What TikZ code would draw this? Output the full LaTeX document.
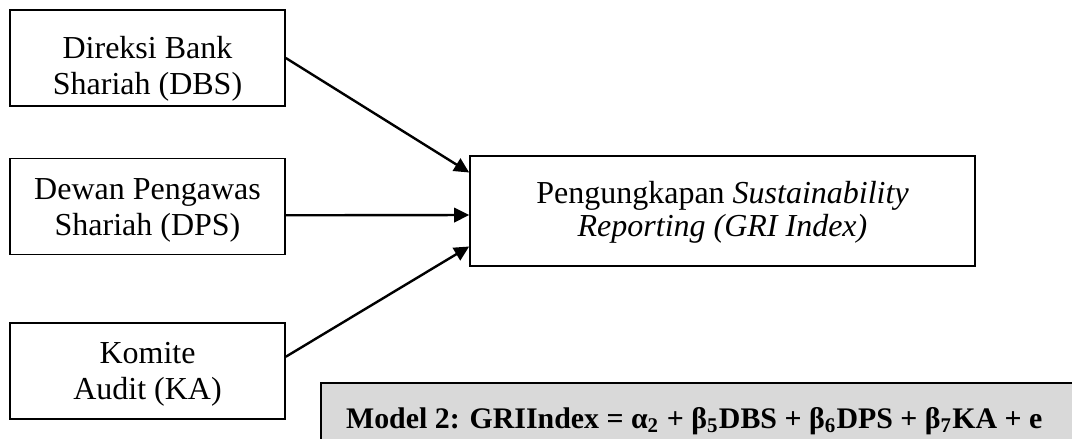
\documentclass[tikz,border=0pt]{standalone}
\usepackage{fontspec}
\setmainfont{Liberation Serif}
\usetikzlibrary{arrows.meta,calc}
\begin{document}
\begin{tikzpicture}[x=0.375pt,y=-0.375pt,
  varbox/.style={draw,line width=0.6pt,align=center,inner sep=0pt,
    minimum width=103.125pt,minimum height=36pt,
    font=\fontsize{12}{13.5}\selectfont},
  depbox/.style={draw,line width=0.6pt,align=center,inner sep=0pt,
    minimum width=189.4pt,minimum height=41.25pt,
    font=\fontsize{12}{12.4}\selectfont},
  modelbox/.style={draw,line width=0.6pt,fill=black!15,inner sep=0pt,anchor=north west,
    minimum width=300pt,minimum height=40pt},
  link/.style={line width=0.9pt,-{Triangle[length=5.6pt,width=5.4pt]}},
]
\useasboundingbox (0,0) rectangle (1072,439);

% independent variables
\node[varbox] (dbs) at (147.5,58)
  {\rule{0pt}{18.25pt}Direksi Bank\\Shariah (DBS)\rule[-4pt]{0pt}{4pt}};
\node[varbox] (dps) at (147.5,206.5)
  {\rule{0pt}{12.6pt}Dewan Pengawas\\Shariah (DPS)\rule[-4pt]{0pt}{4pt}};
\node[varbox] (ka) at (147.5,371)
  {\rule{0pt}{11.5pt}Komite\\Audit (KA)\rule[-4pt]{0pt}{4pt}};

% dependent variable
\node[depbox] (gri) at (722.5,211)
  {\rule{0pt}{9.9pt}Pengungkapan \textit{Sustainability}\\\textit{Reporting (GRI Index)}\rule[-3.5pt]{0pt}{3.5pt}};

% regression model
\node[modelbox] (model) at (320,382) {};
\node[anchor=base east,inner sep=0pt,font=\fontsize{11.2}{13}\selectfont\bfseries] (eq)
  at (1043,428)
  {Model 2: GRIIndex = α\textsubscript{2} + β\textsubscript{5}DBS + β\textsubscript{6}DPS + β\textsubscript{7}KA + e};

% effects
\draw[link] (dbs.east) -- ($(gri.north west)!0.155!(gri.south west)$);
\draw[link] ($(dps.north east)!0.59!(dps.south east)$) -- ($(gri.north west)!0.536!(gri.south west)$);
\draw[link] ($(ka.north east)!0.354!(ka.south east)$) -- ($(gri.north west)!0.818!(gri.south west)$);
\end{tikzpicture}
\end{document}
